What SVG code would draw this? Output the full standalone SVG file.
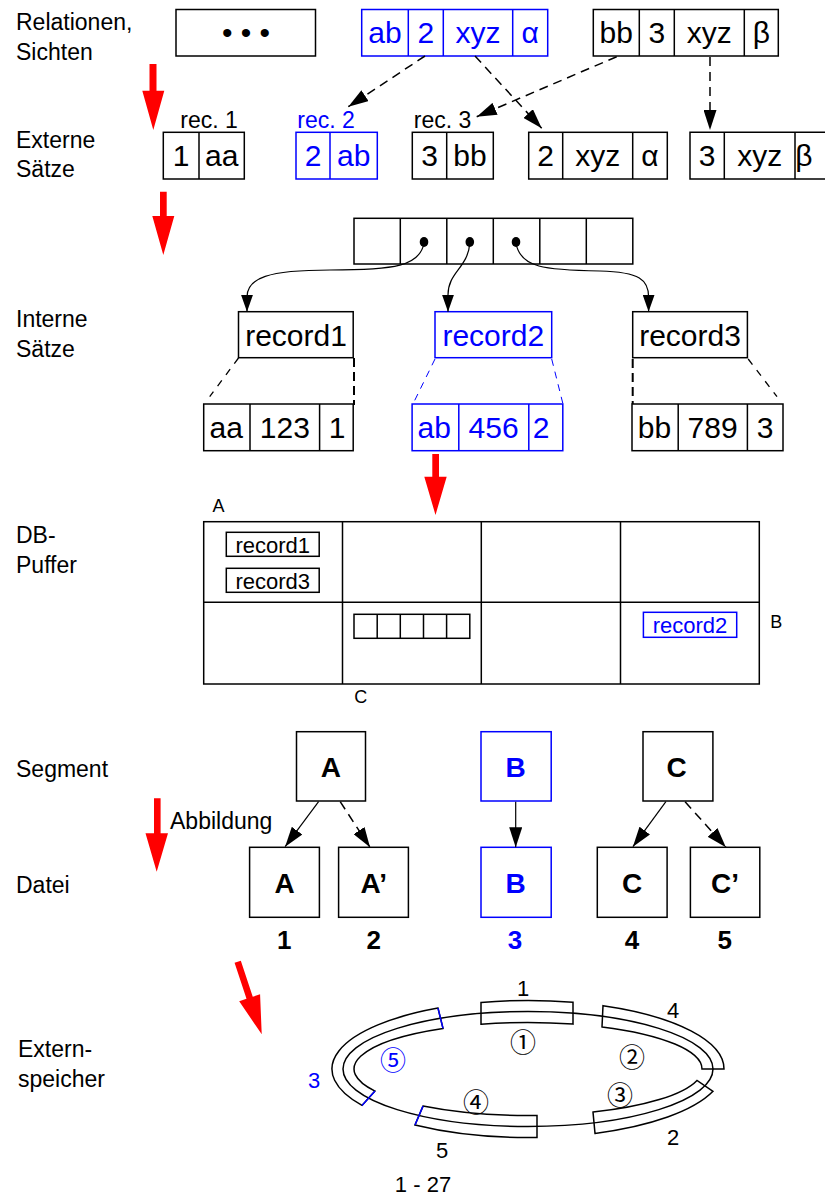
<svg xmlns="http://www.w3.org/2000/svg" width="825" height="1198" viewBox="0 0 825 1198">
<style>
text{font-family:"Liberation Sans",Arial,sans-serif;fill:#000}
.c{font-size:30px;text-anchor:middle}
.cs{font-size:22px;text-anchor:middle}
.l{font-size:23px}
.r{font-size:23px;text-anchor:middle}
.sm{font-size:18px;text-anchor:middle}
.bd{font-size:28px;font-weight:bold;text-anchor:middle}
.nb{font-size:26px;font-weight:bold;text-anchor:middle}
.dn{font-size:22px;text-anchor:middle}
.ci{font-family:"Noto Sans CJK JP","DejaVu Sans",sans-serif;font-size:26px;text-anchor:middle;dominant-baseline:central}
.blue{fill:#00f}
.k{fill:none;stroke:#000;stroke-width:1.5}
.b{fill:none;stroke:#00f;stroke-width:1.5}
.th{fill:none;stroke:#000;stroke-width:1.2}
.d{fill:none;stroke:#000;stroke-width:1.5;stroke-dasharray:9 6}
.ds{fill:none;stroke:#000;stroke-width:1.3;stroke-dasharray:7 7}
.dk{fill:none;stroke:#000;stroke-width:2;stroke-dasharray:9 5}
.db{fill:none;stroke:#00f;stroke-width:1;stroke-dasharray:7 6}
.red{fill:#f00}
</style>
<defs>
<marker id="ah" markerUnits="userSpaceOnUse" markerWidth="20" markerHeight="13" refX="20" refY="6.5" orient="auto"><path d="M0,0 L20,6.5 L0,13 Z" fill="#000"/></marker>
<marker id="ahs" markerUnits="userSpaceOnUse" markerWidth="17" markerHeight="12" refX="17" refY="6" orient="auto"><path d="M0,0 L17,6 L0,12 Z" fill="#000"/></marker>
</defs>

<g id="labels">
<text class="l" x="16" y="30">Relationen,</text>
<text class="l" x="16" y="60">Sichten</text>
<text class="l" x="16" y="148">Externe</text>
<text class="l" x="16" y="177">Sätze</text>
<text class="l" x="16" y="327">Interne</text>
<text class="l" x="16" y="357">Sätze</text>
<text class="l" x="16" y="543">DB-</text>
<text class="l" x="16" y="573">Puffer</text>
<text class="l" x="16" y="777">Segment</text>
<text class="l" x="16" y="893">Datei</text>
<text class="l" x="18" y="1057">Extern-</text>
<text class="l" x="18" y="1087">speicher</text>
</g>

<g id="red-arrows">
<polygon class="red" points="149.5,64 156.5,64 156.5,90.7 164.3,90.7 153.3,130 142.3,90.7 149.5,90.7"/>
<polygon class="red" points="160,191.7 166.7,191.7 166.7,216 174.3,216 163.3,255 152.3,216 160,216"/>
<polygon class="red" points="432.3,454 439,454 439,476.7 446.7,476.7 435.5,515 424.3,476.7 432.3,476.7"/>
<polygon class="red" points="154,798.3 160.6,798.3 160.6,833.3 168,833.3 156.7,871.7 145.5,833.3 154,833.3"/>
<polygon class="red" transform="translate(237.7,961.7) rotate(-18.3)" points="-3.3,0 3.3,0 3.3,38 11,38 0,76.5 -11,38 -3.3,38"/>
</g>

<g id="rel-dots">
<rect class="k" x="176" y="9.5" width="139.5" height="46.5"/>
<text class="c" x="246" y="43">• • •</text>
</g>
<g id="rel-blue">
<rect class="b" x="361.7" y="9.5" width="186" height="46.5"/>
<path class="b" d="M408.3,9.5V56M443.3,9.5V56M512.7,9.5V56"/>
<text class="c blue" x="385" y="43.3">ab</text>
<text class="c blue" x="425.8" y="43.3">2</text>
<text class="c blue" x="478" y="43.3">xyz</text>
<text class="c blue" x="530.2" y="43.3">α</text>
</g>
<g id="rel-black">
<rect class="k" x="593.3" y="9.5" width="185" height="46.5"/>
<path class="k" d="M639.3,9.5V56M674.3,9.5V56M744.3,9.5V56"/>
<text class="c" x="616.3" y="43.3">bb</text>
<text class="c" x="656.8" y="43.3">3</text>
<text class="c" x="709.3" y="43.3">xyz</text>
<text class="c" x="761.3" y="43.3">β</text>
</g>

<g id="ext-rec1">
<text class="r" x="209" y="128.3">rec. 1</text>
<rect class="k" x="163.3" y="132.3" width="81" height="46.7"/>
<path class="k" d="M199,132.3V179"/>
<text class="c" x="181" y="166">1</text>
<text class="c" x="221.7" y="166">aa</text>
</g>
<g id="ext-rec2">
<text class="r blue" x="326" y="128.3">rec. 2</text>
<rect class="b" x="296" y="132.3" width="81.3" height="46.7"/>
<path class="b" d="M330,132.3V179"/>
<text class="c blue" x="313" y="166">2</text>
<text class="c blue" x="353.7" y="166">ab</text>
</g>
<g id="ext-rec3">
<text class="r" x="442.5" y="128.3">rec. 3</text>
<rect class="k" x="412.3" y="132.3" width="81" height="46.7"/>
<path class="k" d="M446.7,132.3V179"/>
<text class="c" x="429.5" y="166">3</text>
<text class="c" x="470" y="166">bb</text>
</g>
<g id="ext-2xyz">
<rect class="k" x="528.7" y="132.3" width="138.6" height="46.7"/>
<path class="k" d="M562.7,132.3V179M632.7,132.3V179"/>
<text class="c" x="545.7" y="166">2</text>
<text class="c" x="597.7" y="166">xyz</text>
<text class="c" x="650" y="166">α</text>
</g>
<g id="ext-3xyz">
<path class="k" d="M830,132.3H690V179H830M724.3,132.3V179M795,132.3V179"/>
<text class="c" x="707.2" y="166">3</text>
<text class="c" x="759.7" y="166">xyz</text>
<text class="c" x="804" y="166">β</text>
</g>

<g id="page">
<rect class="k" x="354" y="218.3" width="278.8" height="45.7"/>
<path class="k" d="M400.3,218.3V264M446.8,218.3V264M493.3,218.3V264M539.8,218.3V264M586.3,218.3V264"/>
<ellipse cx="424" cy="242" rx="4.3" ry="5" fill="#000"/>
<ellipse cx="469.8" cy="242" rx="4.3" ry="5" fill="#000"/>
<ellipse cx="516" cy="242" rx="4.3" ry="5" fill="#000"/>
</g>

<g id="record1">
<rect class="k" x="238.5" y="311.7" width="114.7" height="46"/>
<text class="c" x="296" y="345.7">record1</text>
</g>
<g id="record2">
<rect class="b" x="435" y="311.7" width="116.7" height="46"/>
<text class="c blue" x="493.3" y="345.7">record2</text>
</g>
<g id="record3">
<rect class="k" x="632.7" y="311.7" width="114.7" height="46"/>
<text class="c" x="690" y="345.7">record3</text>
</g>

<g id="int-rec1">
<rect class="k" x="203.7" y="404" width="149.5" height="46.7"/>
<path class="k" d="M250,404V450.7M319.6,404V450.7"/>
<text class="c" x="226.3" y="438">aa</text>
<text class="c" x="284.8" y="438">123</text>
<text class="c" x="337" y="438">1</text>
</g>
<g id="int-rec2">
<rect class="b" x="412.1" y="404" width="150.7" height="46.7"/>
<path class="b" d="M458.8,404V450.7M528.8,404V450.7"/>
<text class="c blue" x="434.3" y="438">ab</text>
<text class="c blue" x="493.6" y="438">456</text>
<text class="c blue" x="541" y="438">2</text>
</g>
<g id="int-rec3">
<rect class="k" x="632" y="404" width="151" height="46.7"/>
<path class="k" d="M678.2,404V450.7M747.4,404V450.7"/>
<text class="c" x="654.5" y="438">bb</text>
<text class="c" x="712.6" y="438">789</text>
<text class="c" x="765.2" y="438">3</text>
</g>

<g id="db-buffer">
<text class="sm" x="218.4" y="512">A</text>
<rect class="k" x="203.7" y="521.7" width="555.6" height="162.3"/>
<path class="k" d="M342.5,521.7V684M481.3,521.7V684M620.5,521.7V684M203.7,602.3H759.3"/>
<rect class="k" x="226.3" y="532.3" width="92.9" height="24"/>
<text class="cs" x="272.7" y="552.5">record1</text>
<rect class="k" x="226.3" y="568.3" width="92.9" height="24"/>
<text class="cs" x="272.7" y="588.5">record3</text>
<rect class="k" x="354" y="614.3" width="115.8" height="24"/>
<path class="k" d="M377.2,614.3V638.3M400.3,614.3V638.3M423.5,614.3V638.3M446.6,614.3V638.3"/>
<rect class="b" x="643.4" y="612.3" width="93.3" height="25"/>
<text class="cs blue" x="690" y="632.8">record2</text>
<text class="sm" x="776.3" y="628">B</text>
<text class="sm" x="360.7" y="703">C</text>
</g>

<g id="seg-A">
<rect class="k" x="296.5" y="731.7" width="69" height="69.3"/>
<text class="bd" x="330.8" y="776.7">A</text>
</g>
<g id="seg-B">
<rect class="b" x="481" y="731.7" width="70.2" height="69.3"/>
<text class="bd blue" x="515.5" y="776.7">B</text>
</g>
<g id="seg-C">
<rect class="k" x="643" y="731.7" width="69.9" height="69.3"/>
<text class="bd" x="676.5" y="776.7">C</text>
</g>
<text class="l" x="170" y="829">Abbildung</text>

<g id="file-1">
<rect class="k" x="249.6" y="847.3" width="69.8" height="70"/>
<text class="bd" x="284.5" y="892.7">A</text>
<text class="nb" x="284.3" y="949.3">1</text>
</g>
<g id="file-2">
<rect class="k" x="338.6" y="847.3" width="69.8" height="70"/>
<text class="bd" x="373.7" y="892.7">A’</text>
<text class="nb" x="373.7" y="949.3">2</text>
</g>
<g id="file-3">
<rect class="b" x="481" y="847.3" width="70.2" height="70"/>
<text class="bd blue" x="515.5" y="892.7">B</text>
<text class="nb blue" x="515" y="949.3">3</text>
</g>
<g id="file-4">
<rect class="k" x="597.3" y="847.3" width="69.8" height="70"/>
<text class="bd" x="632" y="892.7">C</text>
<text class="nb" x="632" y="949.3">4</text>
</g>
<g id="file-5">
<rect class="k" x="690.4" y="847.3" width="69.4" height="70"/>
<text class="bd" x="725" y="892.7">C’</text>
<text class="nb" x="724.7" y="949.3">5</text>
</g>

<g id="connectors">
<path class="d" d="M425,56 L348.3,106.7" marker-end="url(#ah)"/>
<path class="d" d="M475,56 L541.7,128.3" marker-end="url(#ah)"/>
<path class="d" d="M616.7,56.7 L476.7,116.7" marker-end="url(#ah)"/>
<path class="d" d="M710,57 L710,130" marker-end="url(#ah)"/>
<path class="th" d="M424,243 C420,266 395,270 330,270 C268,270 247,278 247,297 L247,311.7" marker-end="url(#ahs)"/>
<path class="th" d="M469.8,243 C468,268 448,272 448,295 L448,311.7" marker-end="url(#ahs)"/>
<path class="th" d="M516,243 C520,268 545,270 600,271 C640,272 648.6,280 648.6,297 L648.6,311.7" marker-end="url(#ahs)"/>
<path class="ds" d="M238.5,358 L209.7,396.7"/>
<path class="dk" d="M354,358 L354,405"/>
<path class="db" d="M435,359 L413.3,403.3M551.7,359 L562.8,403.3"/>
<path class="dk" d="M632.7,359 L632.7,404"/>
<path class="ds" d="M748.2,359 L777,396.7"/>
<path class="th" d="M318.6,801.7 L285.1,846.7" marker-end="url(#ah)"/>
<path class="d" d="M340.2,801.7 L370,847.3" marker-end="url(#ah)"/>
<path class="th" d="M515.7,801.7 L515.7,847.3" marker-end="url(#ah)"/>
<path class="th" d="M665.9,801.7 L632.9,846.7" marker-end="url(#ah)"/>
<path class="d" d="M685.1,801.7 L725.9,847.3" marker-end="url(#ah)"/>
</g>

<g id="disk">
<ellipse class="k" cx="528" cy="1069" rx="185" ry="57.5"/>
<path class="k" d="M481,1002.5 A196,68.5 0 0 1 573,1002.3 L573,1024.1 A174,46.5 0 0 0 481,1024.2 Z"/>
<path class="k" d="M603,1005.7 A196,68.5 0 0 1 724,1069 L702,1069 A174,46.5 0 0 0 602,1026.9 Z"/>
<path class="k" d="M713,1091.3 A196,68.5 0 0 1 595,1133.4 L593,1112.1 A174,46.5 0 0 0 697,1080.4 Z"/>
<path class="k" d="M537,1137.4 A196,68.5 0 0 1 415,1125 L423,1106.1 A174,46.5 0 0 0 537,1115.4 Z"/>
<path class="k" d="M438,1008.1 A196,68.5 0 0 0 362,1105.4 L375,1091.1 A174,46.5 0 0 1 443,1028.4 Z"/>
<path class="b" d="M415,1125 L423,1106.1M438,1008.1 L443,1028.4M362,1105.4 L375,1091.1"/>
<text class="dn" x="523" y="996">1</text>
<text class="dn" x="673" y="1018">4</text>
<text class="dn" x="673" y="1145">2</text>
<text class="dn" x="442" y="1158">5</text>
<text class="dn blue" x="314" y="1088">3</text>
<text class="ci" x="523" y="1040">①</text>
<text class="ci" x="632" y="1055">②</text>
<text class="ci" x="620" y="1093">③</text>
<text class="ci" x="476" y="1100">④</text>
<text class="ci blue" x="393" y="1058">⑤</text>
</g>
<text class="dn" x="423" y="1192">1 - 27</text>
</svg>
